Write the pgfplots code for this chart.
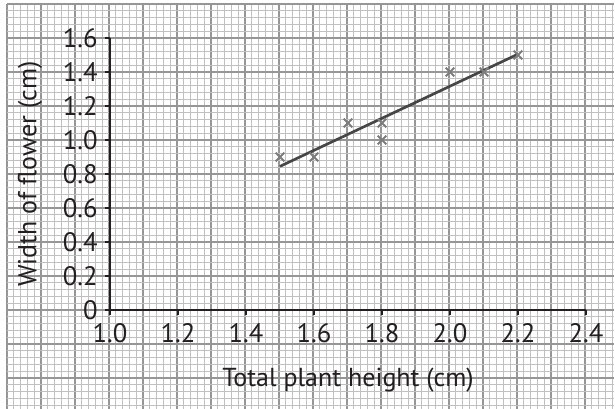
\documentclass[border=0pt]{standalone}
\usepackage{pgfplots}
\pgfplotsset{compat=1.18}
\usepackage{fontspec}
\setmainfont{PT Sans}
\definecolor{minorgrid}{RGB}{192,192,192}
\definecolor{majorgrid}{RGB}{150,150,150}
\definecolor{axisblack}{RGB}{35,31,32}
\definecolor{markgray}{RGB}{125,125,125}
\definecolor{linegray}{RGB}{70,70,70}
\begin{document}
\begin{tikzpicture}
\useasboundingbox (0,0) rectangle (461.25pt,306.75pt);
% graph paper
\begin{axis}[
  at={(5.25pt,0pt)}, anchor=south west,
  x=255pt, y=127.5pt,
  xmin=0.7, xmax=2.4853, ymin=-0.5824, ymax=1.8,
  xtick={0.7,0.8,...,2.45},
  ytick={-0.4,-0.2,...,1.81},
  minor xtick={0.7,0.72,...,2.49},
  minor ytick={-0.6,-0.56,...,1.81},
  grid=both,
  minor grid style={draw=minorgrid, line width=0.8pt},
  major grid style={draw=majorgrid, line width=0.9pt},
  xticklabels={}, yticklabels={},
  tick style={draw=none},
  axis line style={draw=none},
]
\addplot[draw=none] coordinates {(1,0)};
\end{axis}
% data axis
\begin{axis}[
  at={(82.5pt,74.25pt)}, anchor=south west,
  x=255pt, y=127.5pt,
  xmin=1, xmax=2.4, ymin=0, ymax=1.6,
  axis x line=bottom, axis y line=left,
  axis line style={-, line width=1.3pt, draw=axisblack},
  xtick={1.0,1.2,1.4,1.6,1.8,2.0,2.2,2.4},
  ytick={0,0.2,0.4,0.6,0.8,1.0,1.2,1.4,1.6},
  xticklabels={1.0,1.2,1.4,1.6,1.8,2.0,2.2,2.4},
  yticklabels={0,0.2,0.4,0.6,0.8,1.0,1.2,1.4,1.6},
  tick align=outside, major tick length=3.75pt,
  tick style={line width=1pt, draw=axisblack},
  ticklabel style={font=\fontsize{20}{22}\selectfont, text=axisblack},
  xticklabel style={yshift=-3pt},
  yticklabel style={xshift=-2pt},
  xlabel={Total plant height (cm)},
  ylabel={Width of flower (cm)},
  label style={font=\fontsize{19.5}{22}\selectfont, text=axisblack},
  xlabel style={at={(axis description cs:0.5,0)}, anchor=center, yshift=-52.5pt},
  ylabel style={at={(axis description cs:0,0.5)}, anchor=center, yshift=60pt},
  clip=false,
]
\addplot[linegray, line width=2pt] coordinates {(1.5,0.845) (2.2,1.505)};
\addplot[only marks, mark=x, mark size=4.6pt, mark options={draw=markgray, line width=1.5pt}]
  coordinates {(1.5,0.9) (1.6,0.9) (1.7,1.1) (1.8,1.1) (1.8,1.0) (2.0,1.4) (2.1,1.4) (2.2,1.5)};
\end{axis}
\end{tikzpicture}
\end{document}
